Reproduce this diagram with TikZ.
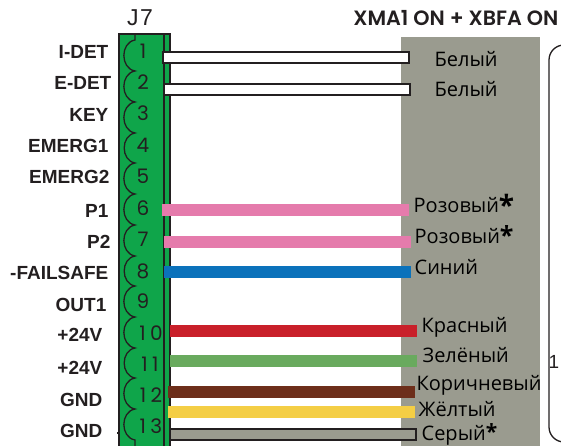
\documentclass[tikz,border=0pt]{standalone}
\usepackage{fontspec}
\setmainfont{Liberation Sans}
\newfontfamily\pinfont[LetterSpace=22]{Poppins}
\newfontfamily\headfont{Poppins SemiBold}
\newfontfamily\colorfont{Open Sans}
\definecolor{termgreen}{HTML}{0FA54A}
\definecolor{panelgray}{HTML}{9A9B8F}
\definecolor{inkdark}{HTML}{231F20}
\definecolor{wirepink}{HTML}{E57BAC}
\definecolor{wireblue}{HTML}{0B72BB}
\definecolor{wirered}{HTML}{C9202A}
\definecolor{wiregreen}{HTML}{69AA5E}
\definecolor{wirebrown}{HTML}{6D2E1A}
\definecolor{wireyellow}{HTML}{F4CE45}
\newcommand{\bigstar}{\raisebox{-3pt}{\fontsize{28}{28}\selectfont\bfseries*}}
\newcommand{\midstar}{\raisebox{-1pt}{\fontsize{25}{25}\selectfont\bfseries*}}
\begin{document}
\begin{tikzpicture}[x=1pt,y=-1pt,line width=1.3,
    signal/.style={anchor=base east,inner sep=0,text=inkdark,font=\fontsize{19}{19}\selectfont\bfseries},
    pin/.style={anchor=base,inner sep=0,text=inkdark,font=\fontsize{20}{20}\selectfont\pinfont},
    colorname/.style={anchor=base west,inner sep=0,text=black,font=\fontsize{20}{20}\selectfont\colorfont},
    wire/.style={line width=12},
    hollow/.style={draw=inkdark,line width=2}]
    \useasboundingbox (0,0) rectangle (561,446);
    % panel and terminal block
    \fill[panelgray] (401,37) rectangle (540,446);
    \draw[inkdark,rounded corners=15] (561,45) -- (549,45) -- (549,442) -- (561,442);
    \draw[inkdark,fill=termgreen] (119,34) rectangle (170,452);
    \draw[inkdark] (164,34) -- (164,446);
    \draw[inkdark] (117,433) -- (119,433);
    \draw[inkdark,looseness=1.25] (135,34) -- (135,40)
        to[bend right=80] (135,71) to[bend right=80] (135,102)
        to[bend right=80] (135,133) to[bend right=80] (135,163)
        to[bend right=80] (135,194) to[bend right=80] (135,225)
        to[bend right=80] (135,256) to[bend right=80] (135,286)
        to[bend right=80] (135,317) to[bend right=80] (135,348)
        to[bend right=80] (135,378) to[bend right=80] (135,409)
        to[bend right=80] (135,440) -- (135,446);
    % headings
    \node[anchor=base,inner sep=0,text=inkdark,font=\fontsize{23}{23}\selectfont] (jseven) at (140,26) {J\kern1.5pt 7};
    \node[anchor=base east,inner sep=0,text=inkdark,font=\fontsize{20.7}{21}\selectfont\headfont] (title) at (559,26) {XMA1 ON + XBFA ON};
    \node[anchor=base,inner sep=0,text=inkdark,font=\fontsize{19}{19}\selectfont] (edge) at (554,368) {1};
    % signal names
    \node[signal] (idet) at (109,59) {I-DET};
    \node[signal] (edet) at (112,90) {E-DET};
    \node[signal] (key) at (109,121.5) {KEY};
    \node[signal] (emergone) at (109,152.5) {EMERG1};
    \node[signal] (emergtwo) at (110,184) {EMERG2};
    \node[signal] (pone) at (109,217) {P1};
    \node[signal] (ptwo) at (111,248) {P2};
    \node[signal] (failsafe) at (109,279) {-FAILSAFE};
    \node[signal] (outone) at (107,311) {OUT1};
    \node[signal] (vone) at (103,341) {+24V};
    \node[signal] (vtwo) at (103,374) {+24V};
    \node[signal] (gndone) at (103,406) {GND};
    \node[signal] (gndtwo) at (103,437) {GND};
    % pin numbers
    \node[pin] (pin1) at (143,59) {1};
    \node[pin] (pin2) at (143,90) {2};
    \node[pin] (pin3) at (143,121) {3};
    \node[pin] (pin4) at (143,152.5) {4};
    \node[pin] (pin5) at (143,183) {5};
    \node[pin] (pin6) at (143,215) {6};
    \node[pin] (pin7) at (143,246.5) {7};
    \node[pin] (pin8) at (143,278) {8};
    \node[pin] (pin9) at (143,308) {9};
    \node[pin] (pin10) at (151,340) {10};
    \node[pin] (pin11) at (150,371) {11};
    \node[pin] (pin12) at (151,402) {12};
    \node[pin] (pin13) at (151,433) {13};
    % wire ends
    \coordinate (w1a) at (163,52);
    \coordinate (w1b) at (409,63);
    \coordinate (w2a) at (164,84);
    \coordinate (w2b) at (410,95);
    \coordinate (w6a) at (162,210);
    \coordinate (w6b) at (409,210);
    \coordinate (w7a) at (164,242);
    \coordinate (w7b) at (411,242);
    \coordinate (w8a) at (164,272);
    \coordinate (w8b) at (411,272);
    \coordinate (w10a) at (170,331);
    \coordinate (w10b) at (417,331);
    \coordinate (w11a) at (170,361);
    \coordinate (w11b) at (417,361);
    \coordinate (w12a) at (168,392);
    \coordinate (w12b) at (415,392);
    \coordinate (w12c) at (168,412);
    \coordinate (w12d) at (415,412);
    \coordinate (w13a) at (170,429);
    \coordinate (w13b) at (416,440);
    % wires
    \draw[hollow,fill=white] (w1a) rectangle (w1b);
    \draw[hollow,fill=white] (w2a) rectangle (w2b);
    \draw[wire,wirepink] (w6a) -- (w6b);
    \draw[wire,wirepink] (w7a) -- (w7b);
    \draw[wire,wireblue] (w8a) -- (w8b);
    \draw[wire,wirered] (w10a) -- (w10b);
    \draw[wire,wiregreen] (w11a) -- (w11b);
    \draw[wire,wirebrown] (w12a) -- (w12b);
    \draw[wire,wireyellow] (w12c) -- (w12d);
    \draw[hollow,fill=panelgray] (w13a) rectangle (w13b);
    % wire colours
    \node[colorname] (white1) at (434,67) {Белый};
    \node[colorname] (white2) at (434,97) {Белый};
    \node[colorname] (pink1) at (413,212) {Розовый\bigstar};
    \node[colorname] (pink2) at (414,243) {Розовый\midstar};
    \node[colorname] (blue) at (414,274) {Синий};
    \node[colorname] (red) at (421,332) {Красный};
    \node[colorname] (green) at (422,362) {Зелёный};
    \node[colorname] (brown) at (416,390) {Коричневый};
    \node[colorname] (yellow) at (418,416) {Жёлтый};
    \node[colorname] (gray) at (421,440.5) {Серый\raisebox{1pt}{\fontsize{21}{21}\selectfont\bfseries*}};
\end{tikzpicture}
\end{document}
